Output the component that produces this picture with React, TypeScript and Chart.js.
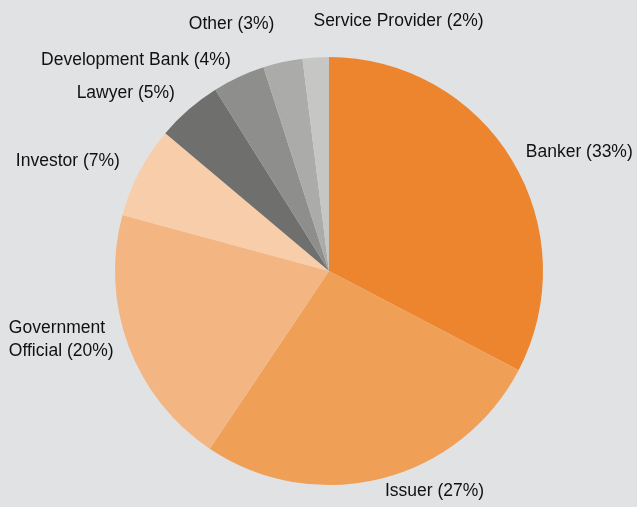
import React, { useEffect, useRef } from "react";
import { Chart, registerables } from "chart.js";

Chart.register(...registerables);

const categories = [
  "Banker",
  "Issuer",
  "Government Official",
  "Investor",
  "Lawyer",
  "Development Bank",
  "Other",
  "Service Provider",
];
const shares = [33, 27, 20, 7, 5, 4, 3, 2];
const wrappedCategories = ["Government Official"];

const sliceColors = [
  "#EC852E",
  "#F09F57",
  "#F3B683",
  "#F8CDAA",
  "#6F6F6D",
  "#8E8E8C",
  "#ABABA9",
  "#C6C6C5",
];
const labelAlign: CanvasTextAlign[] = ["left", "left", "right", "right", "right", "right", "right", "left"];
const labelPad = [16, 13, 16, 22, 21, 19, 39, 36];

const labelPlugin = {
  id: "outsideLabels",
  afterDraw(chart: any) {
    const ctx = chart.ctx as CanvasRenderingContext2D;
    const meta = chart.getDatasetMeta(0);
    ctx.save();
    ctx.font = '17.5px "Liberation Sans", Arial, Helvetica, sans-serif';
    ctx.fillStyle = "#111111";
    ctx.textBaseline = "middle";
    const lineH = 23;
    meta.data.forEach((arc: any, i: number) => {
      const p = arc.getProps(["x", "y", "startAngle", "endAngle", "outerRadius"], true);
      const mid = (p.startAngle + p.endAngle) / 2;
      const R = p.outerRadius + labelPad[i];
      const ax = p.x + Math.cos(mid) * R;
      const ay = p.y + Math.sin(mid) * R;
      const cat = categories[i];
      const text = `${cat} (${shares[i]}%)`;
      let lines: string[] = [text];
      if (wrappedCategories.includes(cat)) {
        const idx = cat.indexOf(" ");
        lines = [cat.slice(0, idx), `${cat.slice(idx + 1)} (${shares[i]}%)`];
      }
      const n = lines.length;
      const maxW = Math.max(...lines.map((l) => ctx.measureText(l).width));
      let left: number;
      if (labelAlign[i] === "left") left = ax;
      else if (labelAlign[i] === "right") left = ax - maxW;
      else left = ax - maxW / 2;
      ctx.textAlign = "left";
      lines.forEach((ln, j) => {
        ctx.fillText(ln, left, ay - (n - 1 - j) * lineH);
      });
    });
    ctx.restore();
  },
};

export default function App() {
  const ref = useRef<HTMLCanvasElement | null>(null);
  useEffect(() => {
    if (!ref.current) return;
    const chart = new Chart(ref.current, {
      type: "pie",
      data: {
        labels: categories,
        datasets: [
          {
            data: shares,
            backgroundColor: sliceColors,
            borderWidth: 0,
          },
        ],
      },
      options: {
        animation: false,
        responsive: false,
        maintainAspectRatio: false,
        layout: { padding: { top: 57, bottom: 22, left: 115, right: 94 } },
        plugins: {
          legend: { display: false },
          tooltip: { enabled: false },
        },
      },
      plugins: [labelPlugin],
    });
    return () => chart.destroy();
  }, []);
  return (
    <div
      style={{
        position: "fixed",
        left: 0,
        top: 0,
        width: 637,
        height: 507,
        background: "#E1E2E4",
      }}
    >
      <canvas ref={ref} width={637} height={507} style={{ width: 637, height: 507, display: "block" }} />
    </div>
  );
}
